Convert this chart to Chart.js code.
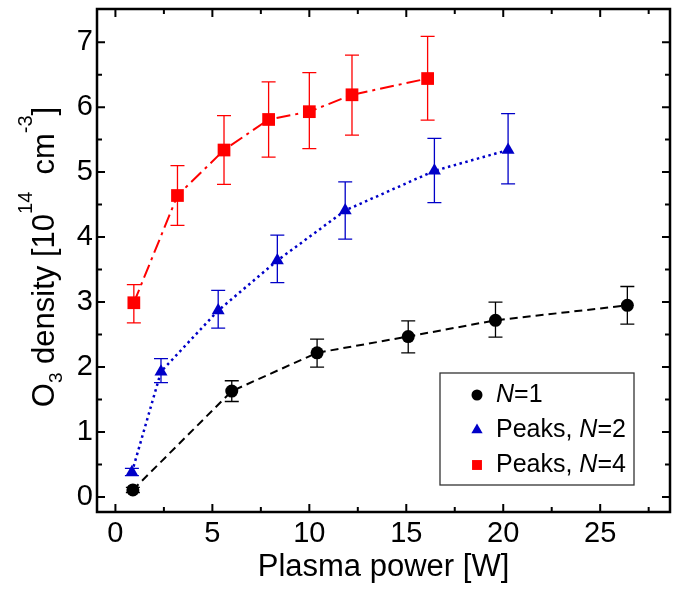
<!DOCTYPE html>
<html>
<head>
<meta charset="utf-8">
<script src="https://cdn.jsdelivr.net/npm/chart.js@4.4.1/dist/chart.umd.min.js"></script>
<style>
  html, body { margin: 0; padding: 0; background: #fff; }
</style>
</head>
<body>
<canvas id="chart" width="680" height="589"></canvas>
<script>
// tick labels
const xTicks = [0, 5, 10, 15, 20, 25];
const yTicks = [0, 1, 2, 3, 4, 5, 6, 7];

// N=1
const n1Power = [0.9, 6.0, 10.4, 15.1, 19.6, 26.4];
const n1Density = [0.11, 1.63, 2.22, 2.47, 2.72, 2.95];
const n1Upper = [0.15, 1.79, 2.43, 2.71, 3.0, 3.24];
const n1Lower = [0.07, 1.47, 2.0, 2.22, 2.46, 2.66];

// Peaks, N=2
const n2Power = [0.85, 2.35, 5.3, 8.35, 11.85, 16.45, 20.25];
const n2Density = [0.38, 1.93, 2.87, 3.64, 4.41, 5.02, 5.34];
const n2Upper = [0.44, 2.13, 3.18, 4.03, 4.85, 5.52, 5.9];
const n2Lower = [0.33, 1.76, 2.6, 3.3, 3.97, 4.53, 4.82];

// Peaks, N=4
const n4Power = [0.95, 3.2, 5.6, 7.9, 10.0, 12.2, 16.1];
const n4Density = [2.99, 4.64, 5.34, 5.81, 5.93, 6.19, 6.44];
const n4Upper = [3.27, 5.1, 5.87, 6.39, 6.53, 6.8, 7.09];
const n4Lower = [2.68, 4.18, 4.81, 5.23, 5.36, 5.57, 5.8];

const seriesLabels = ["N=1", "Peaks, N=2", "Peaks, N=4"];

const FONT = "'Liberation Sans', Arial, sans-serif";

function toPoints(xs, ys, hi, lo) {
  return xs.map((x, i) => ({ x: x, y: ys[i], hi: hi[i], lo: lo[i] }));
}

// error bars under the markers
const errorBars = {
  id: "errorBars",
  beforeDatasetsDraw(chart) {
    const { ctx, scales: { x, y } } = chart;
    chart.data.datasets.forEach((ds) => {
      ctx.save();
      ctx.strokeStyle = ds.borderColor;
      ctx.lineWidth = 1.3;
      ds.data.forEach((p) => {
        const px = x.getPixelForValue(p.x);
        const top = y.getPixelForValue(p.hi);
        const bot = y.getPixelForValue(p.lo);
        ctx.beginPath();
        ctx.moveTo(px, top); ctx.lineTo(px, bot);
        ctx.moveTo(px - 7, top); ctx.lineTo(px + 7, top);
        ctx.moveTo(px - 7, bot); ctx.lineTo(px + 7, bot);
        ctx.stroke();
      });
      ctx.restore();
    });
  }
};

// frame with inward ticks on all four sides
const frame = {
  id: "frame",
  afterDraw(chart) {
    const { ctx, chartArea: a, scales: { x, y } } = chart;
    ctx.save();
    ctx.strokeStyle = "#000";
    ctx.lineWidth = 2;
    ctx.beginPath();
    for (let v = 0; v <= 27.5; v += 2.5) {
      const px = x.getPixelForValue(v);
      const len = v % 5 === 0 ? 8 : 5;
      ctx.moveTo(px, a.bottom); ctx.lineTo(px, a.bottom - len);
      ctx.moveTo(px, a.top); ctx.lineTo(px, a.top + len);
    }
    for (let v = 0; v <= 7; v += 0.5) {
      const py = y.getPixelForValue(v);
      const len = v % 1 === 0 ? 8 : 5;
      ctx.moveTo(a.left, py); ctx.lineTo(a.left + len, py);
      ctx.moveTo(a.right, py); ctx.lineTo(a.right - len, py);
    }
    ctx.stroke();
    ctx.lineWidth = 2.5;
    ctx.strokeRect(a.left, a.top, a.right - a.left, a.bottom - a.top);
    ctx.restore();
  }
};

// y title with sub- and superscripts
const yTitle = {
  id: "yTitle",
  afterDraw(chart) {
    const { ctx } = chart;
    const parts = [
      { t: "O", s: 31, d: 0 },
      { t: "3", s: 19, d: 8 },
      { t: " density [10", s: 31, d: 0 },
      { t: "14", s: 20, d: -22 },
      { t: "  cm", s: 31, d: 0 },
      { t: "-3", s: 20, d: -22 },
      { t: "]", s: 31, d: 0 }
    ];
    ctx.save();
    let total = 0;
    parts.forEach((p) => {
      ctx.font = p.s + "px " + FONT;
      p.w = ctx.measureText(p.t).width;
      total += p.w;
    });
    ctx.translate(54, 257);
    ctx.rotate(-Math.PI / 2);
    ctx.fillStyle = "#000";
    ctx.textBaseline = "alphabetic";
    let cx = -total / 2;
    parts.forEach((p) => {
      ctx.font = p.s + "px " + FONT;
      ctx.fillText(p.t, cx, p.d);
      cx += p.w;
    });
    ctx.restore();
  }
};

// boxed legend inside the plot
const boxLegend = {
  id: "boxLegend",
  afterDraw(chart) {
    const { ctx } = chart;
    const H = Chart.helpers;
    ctx.save();
    ctx.fillStyle = "#fff";
    ctx.fillRect(440, 373, 194, 112);
    ctx.strokeStyle = "#333";
    ctx.lineWidth = 1.3;
    ctx.strokeRect(440, 373, 194, 112);
    ctx.textBaseline = "middle";
    chart.data.datasets.forEach((ds, i) => {
      const rowY = 395 + i * 35;
      ctx.fillStyle = ds.backgroundColor;
      H.drawPoint(ctx, { pointStyle: ds.pointStyle, radius: ds.legendRadius, rotation: 0, borderWidth: 0 }, 477, rowY);
      ctx.fillStyle = "#000";
      const bits = ds.label.split("N");
      let tx = 496;
      ctx.font = "25px " + FONT;
      ctx.fillText(bits[0], tx, rowY);
      tx += ctx.measureText(bits[0]).width;
      ctx.font = "italic 25px " + FONT;
      ctx.fillText("N", tx, rowY);
      tx += ctx.measureText("N").width;
      ctx.font = "25px " + FONT;
      ctx.fillText(bits[1], tx, rowY);
    });
    ctx.restore();
  }
};

const tickFont = { family: FONT, size: 29 };

new Chart(document.getElementById("chart"), {
  type: "scatter",
  data: {
    datasets: [
      {
        label: seriesLabels[0],
        data: toPoints(n1Power, n1Density, n1Upper, n1Lower),
        showLine: true,
        borderColor: "#000000",
        backgroundColor: "#000000",
        borderWidth: 2,
        borderDash: [8, 5],
        pointStyle: "circle",
        pointRadius: 6.5,
        pointBorderWidth: 0,
        legendRadius: 5.5
      },
      {
        label: seriesLabels[1],
        data: toPoints(n2Power, n2Density, n2Upper, n2Lower),
        showLine: true,
        borderColor: "#0000c8",
        backgroundColor: "#0000c8",
        borderWidth: 2.5,
        borderDash: [2.5, 3.5],
        pointStyle: "triangle",
        pointRadius: 7.5,
        pointBorderWidth: 0,
        legendRadius: 6.5
      },
      {
        label: seriesLabels[2],
        data: toPoints(n4Power, n4Density, n4Upper, n4Lower),
        showLine: true,
        borderColor: "#ff0000",
        backgroundColor: "#ff0000",
        borderWidth: 2,
        borderDash: [14, 5, 3, 5],
        pointStyle: "rect",
        pointRadius: 9,
        pointBorderWidth: 0,
        legendRadius: 7
      }
    ]
  },
  options: {
    responsive: false,
    animation: false,
    layout: { padding: { top: 6, right: 10, left: 0, bottom: 0 } },
    plugins: {
      legend: { display: false },
      tooltip: { enabled: false }
    },
    scales: {
      x: {
        type: "linear",
        min: -0.95,
        max: 28.6,
        afterBuildTicks: (s) => { s.ticks = xTicks.map((v) => ({ value: v })); },
        afterFit: (s) => { s.height = 77; s.paddingLeft = 0; s.paddingRight = 0; },
        grid: { display: false, drawTicks: false },
        border: { display: false },
        ticks: { color: "#000", font: tickFont, padding: 5, maxRotation: 0, autoSkip: false },
        title: {
          display: true,
          text: "Plasma power [W]",
          color: "#000",
          font: { family: FONT, size: 31 },
          padding: { top: 0, bottom: 3 }
        }
      },
      y: {
        type: "linear",
        min: -0.23,
        max: 7.51,
        afterBuildTicks: (s) => { s.ticks = yTicks.map((v) => ({ value: v })); },
        afterFit: (s) => { s.width = 97; s.paddingTop = 0; s.paddingBottom = 0; },
        grid: { display: false, drawTicks: false },
        border: { display: false },
        ticks: { color: "#000", font: tickFont, padding: 4, autoSkip: false }
      }
    }
  },
  plugins: [errorBars, frame, yTitle, boxLegend]
});
</script>
</body>
</html>
